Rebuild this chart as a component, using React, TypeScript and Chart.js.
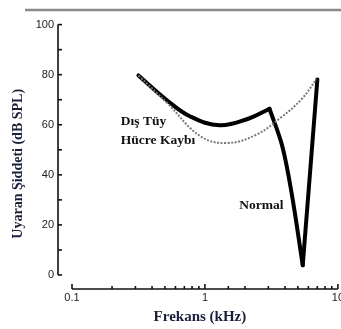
import React, { useEffect, useRef } from "react";
import { Chart, registerables } from "chart.js";

Chart.register(...registerables);

// Frequencies (kHz) and levels (dB SPL)
const normalFreq = [0.316, 0.526, 0.776, 1.29, 2.14, 3.06, 3.81, 4.51, 5.44, 6.12, 7.01];
const normalLevel = [79.7, 69.5, 63.3, 59.8, 62.5, 66.4, 51.6, 32.0, 3.9, 38.3, 78.1];
const peakIndex = 5; // sharp corner between the smooth bowl and the notch
const minIndex = 8; // tip of the notch

const lossFreq = [0.316, 0.526, 0.92, 1.45, 2.41, 3.81, 5.35, 6.88];
const lossLevel = [79.7, 68.4, 55.5, 52.7, 55.9, 63.3, 70.3, 78.1];

const yTicks = [0, 20, 40, 60, 80, 100];
const xLabelTicks = [0.1, 1, 10];

const annotationText = ["Dış Tüy", "Hücre Kaybı", "Normal"];
const annotationFreq = [0.233, 0.233, 1.81];
const annotationLevel = [61.3, 53.9, 27.7];

const xTitle = "Frekans (kHz)";
const yTitle = "Uyaran Şiddeti (dB SPL)";

const toPoints = (xs: number[], ys: number[]) => xs.map((x, i) => ({ x, y: ys[i] }));

export default function App() {
  const ref = useRef<HTMLCanvasElement | null>(null);

  useEffect(() => {
    if (!ref.current) return;
    const normalPts = toPoints(normalFreq, normalLevel);
    const lossPts = toPoints(lossFreq, lossLevel);

    const decor = {
      id: "decor",
      afterDraw(chart: any) {
        const { ctx, chartArea } = chart;
        const xs = chart.scales.x;
        const ys = chart.scales.y;
        ctx.save();
        // top gray rule
        ctx.strokeStyle = "#8a8a8a";
        ctx.lineWidth = 2.5;
        ctx.beginPath();
        ctx.moveTo(25, 10);
        ctx.lineTo(chart.width, 10);
        ctx.stroke();

        // y axis (offset to the left)
        const ax = chartArea.left - 14;
        ctx.strokeStyle = "#111";
        ctx.lineWidth = 1.6;
        ctx.beginPath();
        ctx.moveTo(ax, ys.getPixelForValue(100));
        ctx.lineTo(ax, ys.getPixelForValue(0));
        ctx.stroke();
        for (let v = 0; v <= 100; v += 10) {
          const py = ys.getPixelForValue(v);
          ctx.beginPath();
          ctx.moveTo(ax, py);
          ctx.lineTo(ax + 4, py);
          ctx.stroke();
        }

        // x axis (offset below)
        const ay = chartArea.bottom + 14;
        ctx.beginPath();
        ctx.moveTo(xs.getPixelForValue(0.1), ay);
        ctx.lineTo(xs.getPixelForValue(10), ay);
        ctx.stroke();
        xs.ticks.forEach((t: any) => {
          const px = xs.getPixelForValue(t.value);
          const major = xLabelTicks.some((m) => Math.abs(m - t.value) < 1e-9);
          ctx.beginPath();
          ctx.moveTo(px, ay);
          ctx.lineTo(px, ay - (major ? 5 : 3));
          ctx.stroke();
        });

        // annotations
        ctx.fillStyle = "#111";
        ctx.font = "bold 13.5px 'Liberation Serif', serif";
        ctx.textAlign = "left";
        ctx.textBaseline = "middle";
        annotationText.forEach((t, i) => {
          ctx.fillText(t, xs.getPixelForValue(annotationFreq[i]), ys.getPixelForValue(annotationLevel[i]));
        });

        // axis titles
        ctx.fillStyle = "#1a1f3a";
        ctx.font = "bold 15px 'Liberation Serif', serif";
        ctx.textAlign = "center";
        ctx.fillText(xTitle, (chartArea.left + chartArea.right) / 2 - 5, chartArea.bottom + 42);
        ctx.save();
        ctx.translate(chartArea.left - 54, (chartArea.top + chartArea.bottom) / 2 + 14);
        ctx.rotate(-Math.PI / 2);
        ctx.font = "bold 14px 'Liberation Serif', serif";
        ctx.fillText(yTitle, 0, 0);
        ctx.restore();
        ctx.restore();
      },
    };

    const thick = {
      borderColor: "#000",
      borderWidth: 4,
      pointRadius: 0,
      borderCapStyle: "round",
      borderJoinStyle: "round",
      fill: false,
    };

    const chart = new Chart(ref.current, {
      type: "line",
      data: {
        datasets: [
          {
            label: "Dış Tüy Hücre Kaybı",
            data: lossPts,
            borderColor: "#7a7a7a",
            borderWidth: 2,
            borderDash: [2, 1.5],
            pointRadius: 0,
            tension: 0.4,
            fill: false,
          },
          { label: "Normal", data: normalPts.slice(0, peakIndex + 1), tension: 0.4, ...thick },
          { label: "Normal descent", data: normalPts.slice(peakIndex, minIndex + 1), tension: 0.35, ...thick },
          { label: "Normal ascent", data: normalPts.slice(minIndex), tension: 0, ...thick },
        ] as any,
      },
      options: {
        responsive: false,
        animation: false,
        devicePixelRatio: 1,
        layout: { padding: { left: 0, right: 16, top: 19, bottom: 0 } },
        plugins: { legend: { display: false }, tooltip: { enabled: false } },
        scales: {
          x: {
            type: "logarithmic",
            min: 0.1,
            max: 10,
            grid: { display: false, drawTicks: false },
            border: { display: false },
            afterFit: (s: any) => {
              s.height = 54;
            },
            ticks: {
              autoSkip: false,
              maxRotation: 0,
              padding: 16,
              color: "#222",
              font: { family: "'Liberation Sans', Arial, sans-serif", size: 11 },
              callback: (v: any) => {
                const n = Number(v);
                const hit = xLabelTicks.find((m) => Math.abs(m - n) < 1e-9);
                return hit !== undefined ? String(hit) : "";
              },
            },
          },
          y: {
            type: "linear",
            min: 0,
            max: 100,
            grid: { display: false, drawTicks: false },
            border: { display: false },
            afterFit: (s: any) => {
              s.width = 72;
            },
            afterBuildTicks: (s: any) => {
              s.ticks = yTicks.map((v) => ({ value: v }));
            },
            ticks: {
              padding: 18,
              color: "#222",
              font: { family: "'Liberation Sans', Arial, sans-serif", size: 11 },
            },
          },
        },
      },
      plugins: [decor],
    });
    return () => chart.destroy();
  }, []);

  return (
    <div style={{ position: "fixed", left: 0, top: 0, width: 341, height: 329, overflow: "hidden", background: "#fff" }}>
      <canvas ref={ref} width={360} height={329} style={{ display: "block" }} />
    </div>
  );
}
